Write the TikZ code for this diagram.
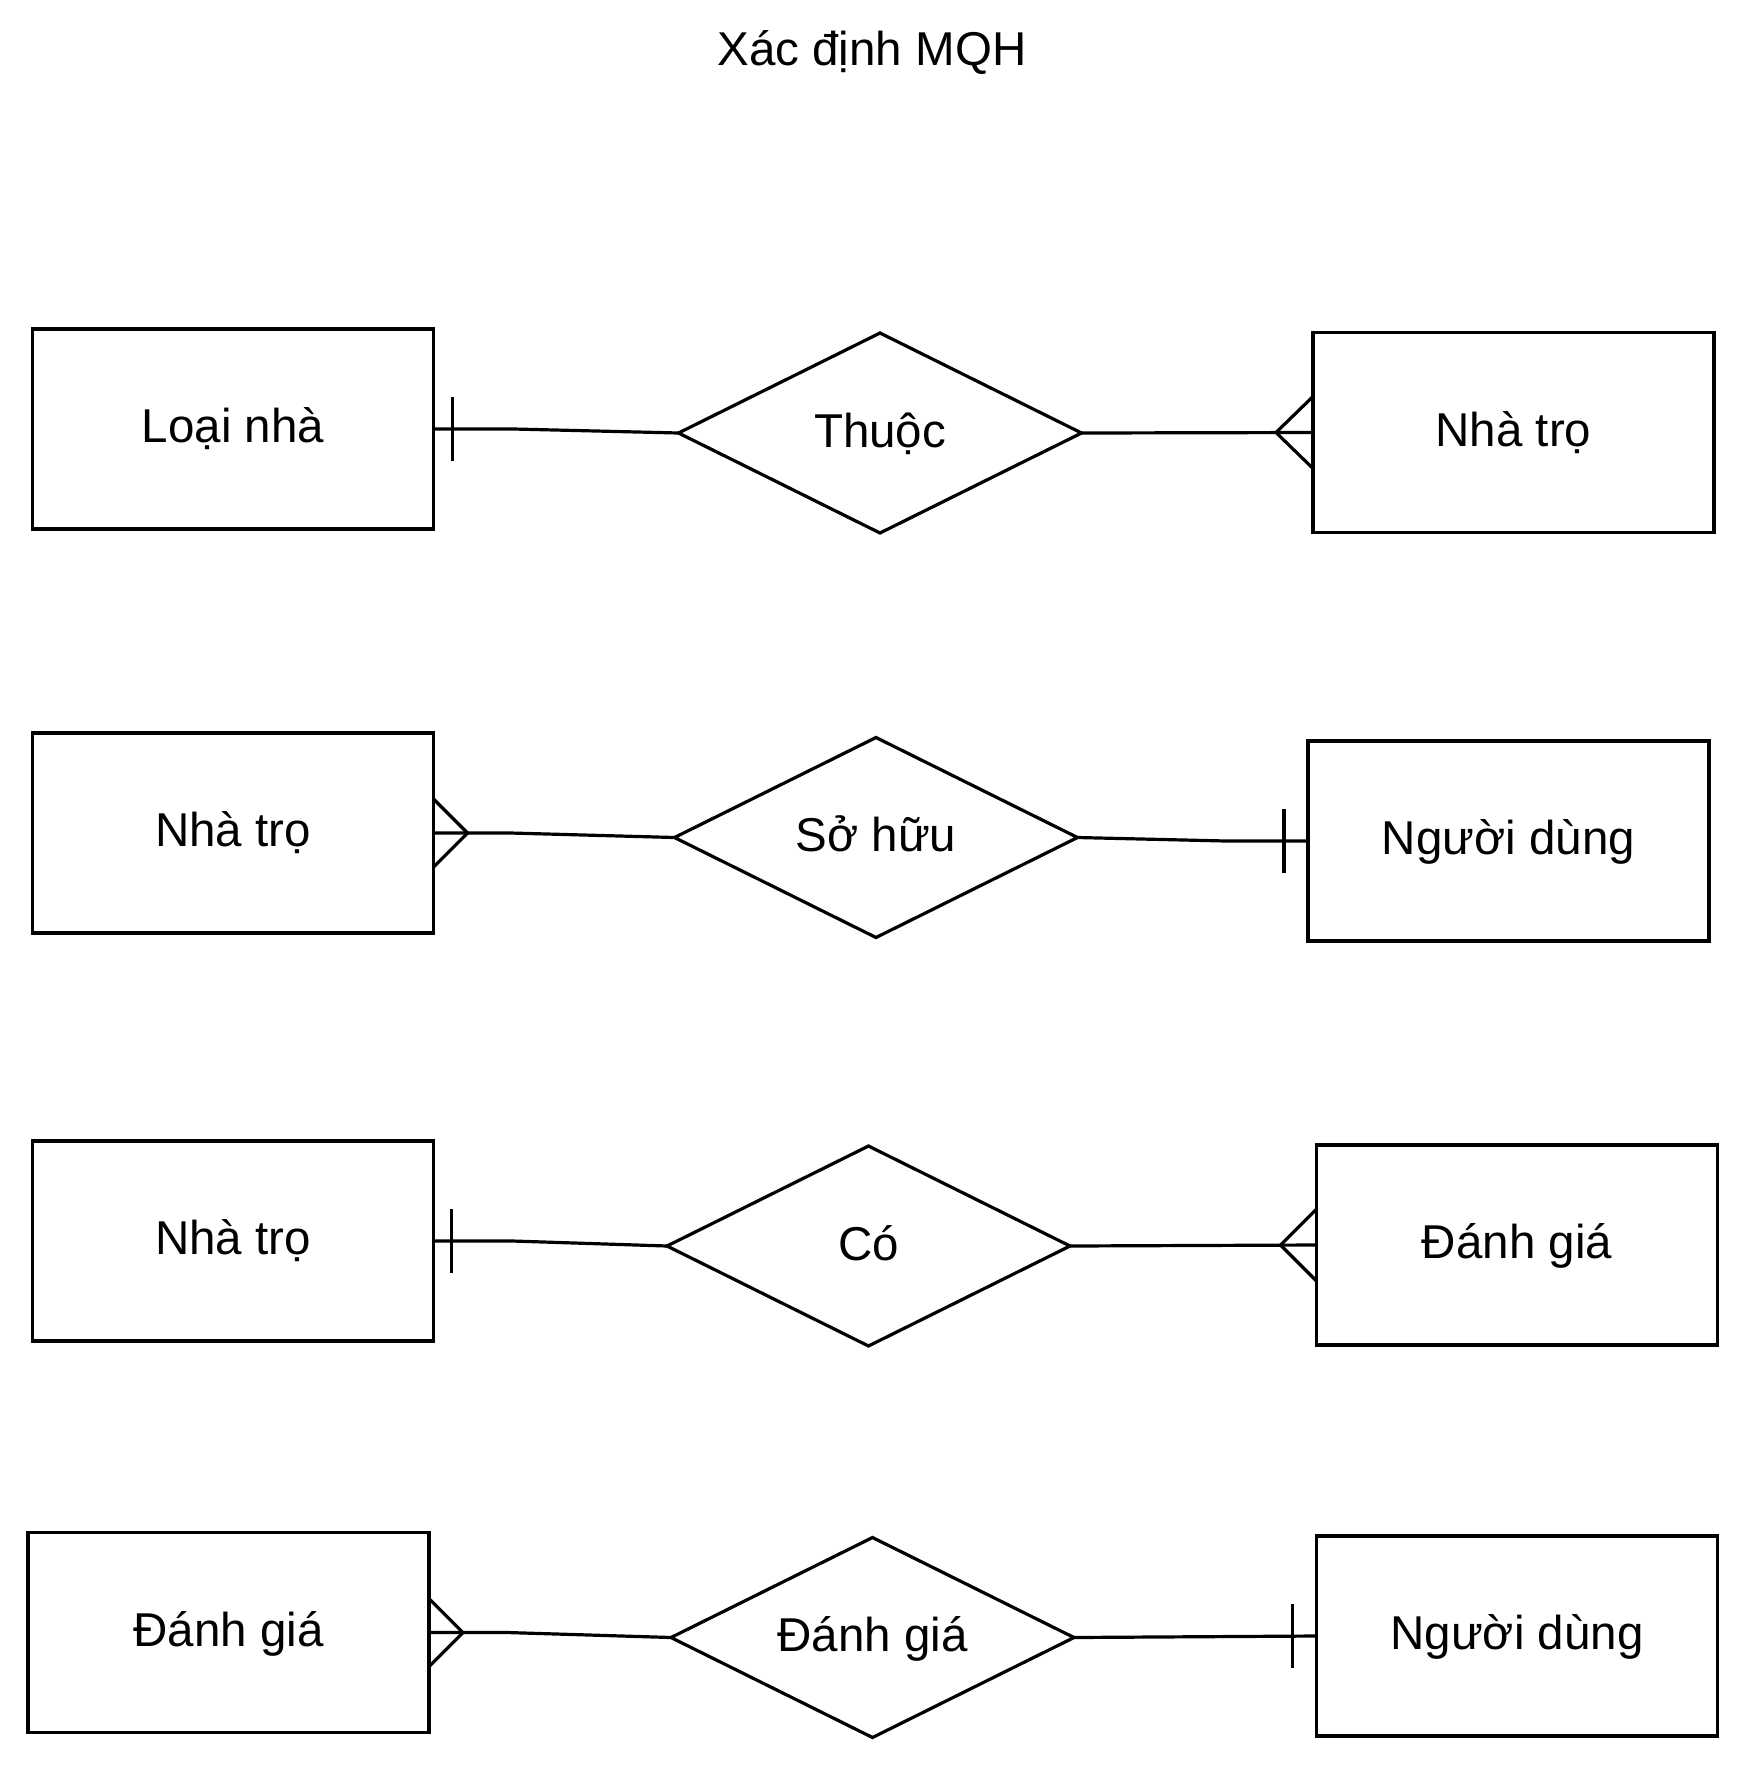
\documentclass[tikz,border=0pt]{standalone}
\usepackage{fontspec}
\setmainfont{Liberation Sans}
\usetikzlibrary{shapes.geometric,calc}
\tikzset{
  base/.style={line width=3.2pt, line join=miter},
  entity/.style={base, draw, rectangle, minimum width=401pt, minimum height=200pt, inner sep=0pt, outer sep=0pt,
     font=\fontsize{47.5}{57}\selectfont, text height=34pt, text depth=7pt},
  rel/.style={base, draw, diamond, aspect=2, minimum width=403pt, minimum height=200pt, inner sep=0pt, outer sep=0pt,
     font=\fontsize{47.5}{57}\selectfont, text height=34pt, text depth=6pt},
  conn/.style={base},
  titletext/.style={font=\fontsize{47.5}{57}\selectfont, inner sep=0pt, anchor=base}
}
\begin{document}
\begin{tikzpicture}[x=1pt,y=-1pt]
\useasboundingbox[fill=white] (0,0) rectangle (1744,1765);

\node[titletext] (title) at (872,65) {Xác định MQH};

% Row 1
\node[entity] (L1) at (233,429) {Loại nhà};
\node[rel] (D1) at (880,433) {Thuộc};
\node[entity] (R1) at (1513.5,432.5) {Nhà trọ};
% Row 2
\node[entity] (L2) at (233,833) {Nhà trọ};
\node[rel] (D2) at (876,837.5) {Sở hữu};
\node[entity] (R2) at (1508.5,841) {Người dùng};
% Row 3
\node[entity] (L3) at (233,1241) {Nhà trọ};
\node[rel] (D3) at (868.5,1246) {Có};
\node[entity] (R3) at (1517,1245) {Đánh giá};
% Row 4
\node[entity] (L4) at (228.5,1632.5) {Đánh giá};
\node[rel] (D4) at (872.5,1637.5) {Đánh giá};
\node[entity] (R4) at (1517,1636) {Người dùng};

% Row 1 connectors: one (L1) -- many (R1)
\draw[conn] (L1.east) -- ($(L1.east)+(80,0)$) -- (D1.west);
\draw[conn] ($(L1.east)+(19,-32)$) -- ($(L1.east)+(19,32)$);
\draw[conn] (D1.east) -- (R1.west);
\draw[conn] ($(R1.west)+(0,-36)$) -- ($(R1.west)+(-37,0)$) -- ($(R1.west)+(0,36)$);

% Row 2 connectors: many (L2) -- one (R2)
\draw[conn] (L2.east) -- ($(L2.east)+(77,0)$) -- (D2.west);
\draw[conn] ($(L2.east)+(0,-34)$) -- ($(L2.east)+(34,0)$) -- ($(L2.east)+(0,34)$);
\draw[conn] (D2.east) -- ($(R2.west)+(-82,0)$) -- (R2.west);
\draw[conn] ($(R2.west)+(-24,-32)$) -- ($(R2.west)+(-24,32)$);

% Row 3 connectors: one (L3) -- many (R3)
\draw[conn] (L3.east) -- ($(L3.east)+(79,0)$) -- (D3.west);
\draw[conn] ($(L3.east)+(18,-32)$) -- ($(L3.east)+(18,32)$);
\draw[conn] (D3.east) -- (R3.west);
\draw[conn] ($(R3.west)+(0,-36)$) -- ($(R3.west)+(-36,0)$) -- ($(R3.west)+(0,36)$);

% Row 4 connectors: many (L4) -- one (R4)
\draw[conn] (L4.east) -- ($(L4.east)+(78,0)$) -- (D4.west);
\draw[conn] ($(L4.east)+(0,-34)$) -- ($(L4.east)+(34,0)$) -- ($(L4.east)+(0,34)$);
\draw[conn] (D4.east) -- (R4.west);
\draw[conn] ($(R4.west)+(-24,-32)$) -- ($(R4.west)+(-24,32)$);
\end{tikzpicture}
\end{document}
